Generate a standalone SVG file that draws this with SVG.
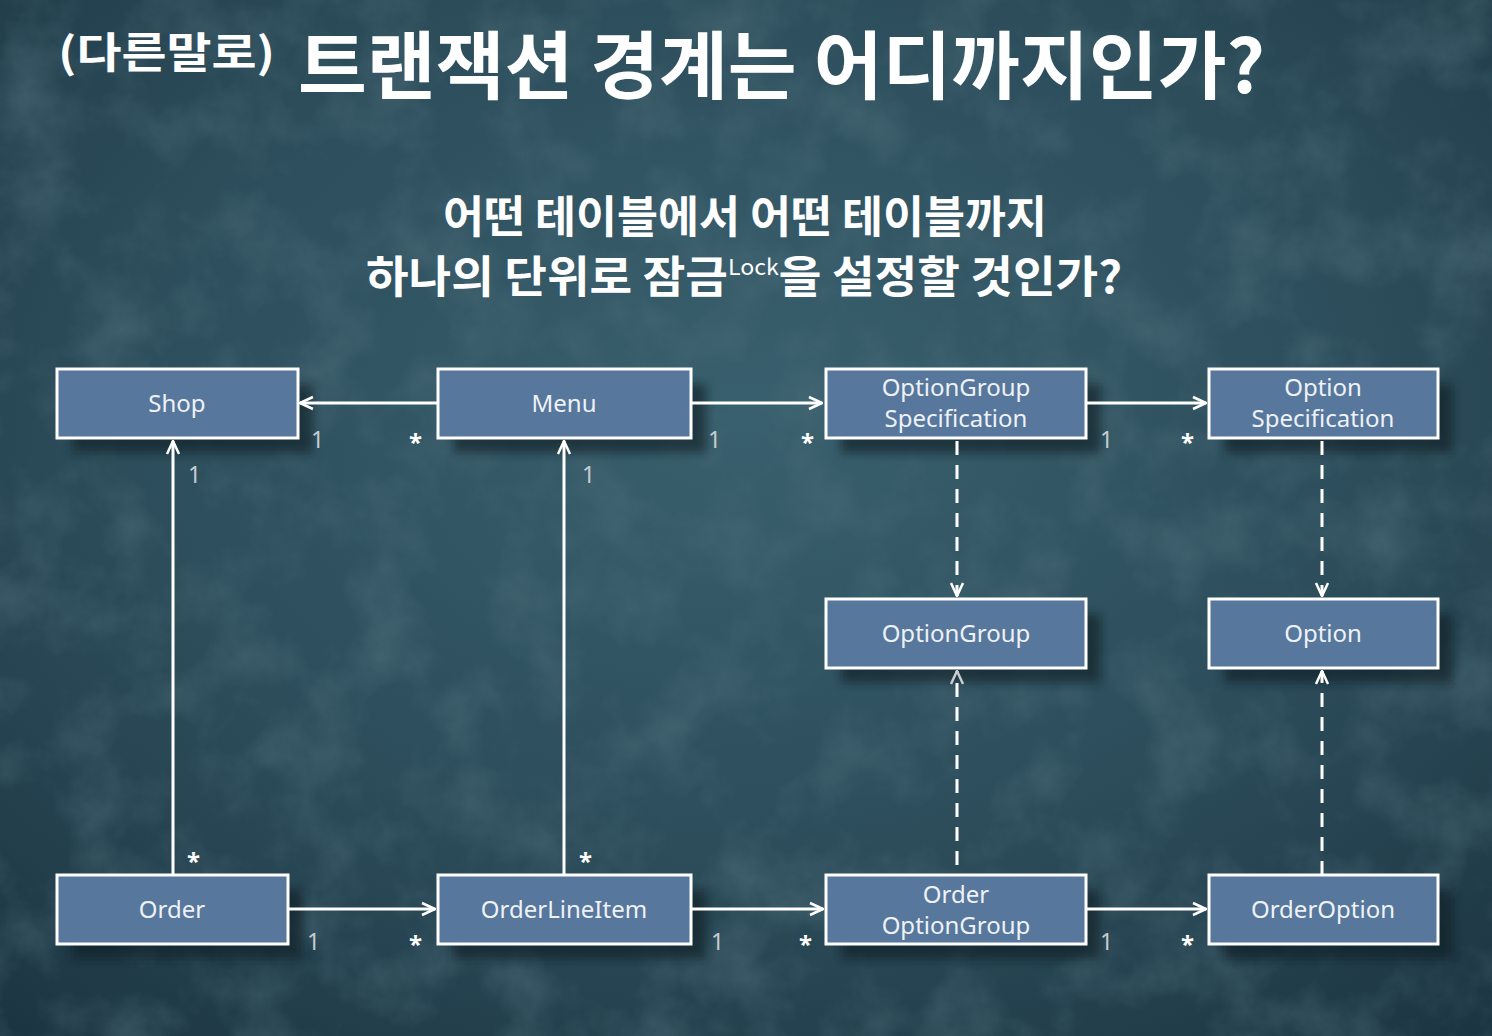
<svg xmlns="http://www.w3.org/2000/svg" width="1492" height="1036" viewBox="0 0 1492 1036">
<defs>
  <radialGradient id="bg" cx="0.5" cy="0.4" r="0.8">
    <stop offset="0" stop-color="#39606e"/>
    <stop offset="0.55" stop-color="#2c4c5a"/>
    <stop offset="1" stop-color="#1b3340"/>
  </radialGradient>
  <filter id="tex" x="0" y="0" width="100%" height="100%">
    <feTurbulence type="fractalNoise" baseFrequency="0.014" numOctaves="5" seed="11" result="n"/>
    <feColorMatrix type="matrix" values="0 0 0 0 0.08  0 0 0 0 0.16  0 0 0 0 0.2  0 0 0 -1.8 1.05"/>
  </filter>
  <filter id="shadow" x="-10%" y="-20%" width="130%" height="160%">
    <feGaussianBlur stdDeviation="5"/>
  </filter>
  <marker id="arr" viewBox="0 0 16 16" refX="15" refY="8" markerWidth="16" markerHeight="16" markerUnits="userSpaceOnUse" orient="auto">
    <path d="M2,2 L15,8 L2,14" fill="none" stroke="#ffffff" stroke-width="2.5" stroke-linejoin="miter"/>
  </marker>
  <marker id="arrg" viewBox="0 0 16 16" refX="15" refY="8" markerWidth="16" markerHeight="16" markerUnits="userSpaceOnUse" orient="auto">
    <path d="M2,2 L15,8 L2,14" fill="none" stroke="#c8cdd2" stroke-width="2.5"/>
  </marker>
</defs>
<style>
  .box { fill: #57779d; stroke: #ffffff; stroke-width: 3; }
  .shd { fill: #0c1a22; opacity: 0.6; filter: url(#shadow); }
  .lbl { font-family: "Noto Sans", "Open Sans", sans-serif; font-size: 24px; fill: #eef2f6; text-anchor: middle; }
  .ln { stroke: #ffffff; stroke-width: 3; fill: none; }
  .dash { stroke: #ffffff; stroke-width: 3; fill: none; stroke-dasharray: 14 10; }
  .one { font-family: "Noto Sans", sans-serif; font-size: 23px; fill: #c6ccd0; }
  .many { font-family: "Noto Sans", sans-serif; font-size: 24px; font-weight: bold; fill: #ffffff; }
  .ttl { font-family: "Noto Sans CJK KR", sans-serif; font-weight: bold; fill: #ffffff; }
</style>
<rect x="0" y="0" width="1492" height="1036" fill="url(#bg)"/>
<rect x="0" y="0" width="1492" height="1036" filter="url(#tex)" opacity="0.6"/>

<g id="title">
  <text class="ttl" x="58" y="68" font-size="42" textLength="217" lengthAdjust="spacingAndGlyphs">(다른말로)</text>
  <text class="ttl" x="298" y="93" font-size="74" textLength="967" lengthAdjust="spacingAndGlyphs">트랜잭션 경계는 어디까지인가?</text>
</g>
<g id="subtitle">
  <text class="ttl" x="443" y="233" font-size="44" textLength="604" lengthAdjust="spacingAndGlyphs">어떤 테이블에서 어떤 테이블까지</text>
  <text class="ttl" x="366" y="293" font-size="44" textLength="756" lengthAdjust="spacingAndGlyphs">하나의 단위로 잠금<tspan font-size="22" font-weight="normal" dy="-18">Lock</tspan><tspan dy="18">을 설정할 것인가?</tspan></text>
</g>

<g id="shadows">
  <rect class="shd" x="72" y="384" width="241" height="69"/>
  <rect class="shd" x="453" y="384" width="253" height="69"/>
  <rect class="shd" x="841" y="384" width="260" height="69"/>
  <rect class="shd" x="1224" y="384" width="229" height="69"/>
  <rect class="shd" x="841" y="614" width="260" height="69"/>
  <rect class="shd" x="1224" y="614" width="229" height="69"/>
  <rect class="shd" x="72" y="890" width="231" height="69"/>
  <rect class="shd" x="453" y="890" width="253" height="69"/>
  <rect class="shd" x="841" y="890" width="260" height="69"/>
  <rect class="shd" x="1224" y="890" width="229" height="69"/>
</g>

<g id="connectors">
  <line class="ln" x1="438" y1="403" x2="300" y2="403" marker-end="url(#arr)"/>
  <line class="ln" x1="691" y1="403" x2="822" y2="403" marker-end="url(#arr)"/>
  <line class="ln" x1="1086" y1="403" x2="1206" y2="403" marker-end="url(#arr)"/>
  <line class="ln" x1="173" y1="875" x2="173" y2="441" marker-end="url(#arr)"/>
  <line class="ln" x1="564" y1="875" x2="564" y2="441" marker-end="url(#arr)"/>
  <line class="dash" x1="957" y1="441" x2="957" y2="596" marker-end="url(#arr)"/>
  <line class="dash" x1="1322" y1="441" x2="1322" y2="596" marker-end="url(#arr)"/>
  <line class="dash" x1="957" y1="865" x2="957" y2="671" marker-end="url(#arrg)"/>
  <line class="dash" x1="1322" y1="875" x2="1322" y2="671" marker-end="url(#arr)"/>
  <line class="ln" x1="288" y1="909" x2="435" y2="909" marker-end="url(#arr)"/>
  <line class="ln" x1="691" y1="909" x2="823" y2="909" marker-end="url(#arr)"/>
  <line class="ln" x1="1086" y1="909" x2="1206" y2="909" marker-end="url(#arr)"/>
  <text class="one" x="311" y="448">1</text>
  <text class="many" x="409" y="451">*</text>
  <text class="one" x="708" y="448">1</text>
  <text class="many" x="801" y="451">*</text>
  <text class="one" x="1100" y="448">1</text>
  <text class="many" x="1181" y="451">*</text>
  <text class="one" x="188" y="483">1</text>
  <text class="many" x="187" y="870">*</text>
  <text class="one" x="582" y="483">1</text>
  <text class="many" x="579" y="870">*</text>
  <text class="one" x="307" y="950">1</text>
  <text class="many" x="409" y="953">*</text>
  <text class="one" x="711" y="950">1</text>
  <text class="many" x="799" y="953">*</text>
  <text class="one" x="1100" y="950">1</text>
  <text class="many" x="1181" y="953">*</text>
</g>

<g id="node-shop"><rect class="box" x="57" y="369" width="241" height="69"/><text class="lbl" x="177" y="412">Shop</text></g>
<g id="node-menu"><rect class="box" x="438" y="369" width="253" height="69"/><text class="lbl" x="564" y="412">Menu</text></g>
<g id="node-ogs"><rect class="box" x="826" y="369" width="260" height="69"/><text class="lbl" x="956" y="396">OptionGroup</text><text class="lbl" x="956" y="427">Specification</text></g>
<g id="node-os"><rect class="box" x="1209" y="369" width="229" height="69"/><text class="lbl" x="1323" y="396">Option</text><text class="lbl" x="1323" y="427">Specification</text></g>
<g id="node-og"><rect class="box" x="826" y="599" width="260" height="69"/><text class="lbl" x="956" y="642">OptionGroup</text></g>
<g id="node-opt"><rect class="box" x="1209" y="599" width="229" height="69"/><text class="lbl" x="1323" y="642">Option</text></g>
<g id="node-order"><rect class="box" x="57" y="875" width="231" height="69"/><text class="lbl" x="172" y="918">Order</text></g>
<g id="node-oli"><rect class="box" x="438" y="875" width="253" height="69"/><text class="lbl" x="564" y="918">OrderLineItem</text></g>
<g id="node-oog"><rect class="box" x="826" y="875" width="260" height="69"/><text class="lbl" x="956" y="903">Order</text><text class="lbl" x="956" y="934">OptionGroup</text></g>
<g id="node-oo"><rect class="box" x="1209" y="875" width="229" height="69"/><text class="lbl" x="1323" y="918">OrderOption</text></g>
</svg>
